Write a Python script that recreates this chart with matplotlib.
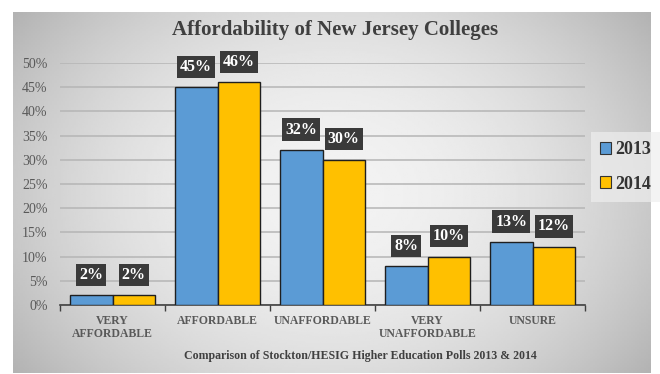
import numpy as np
import matplotlib
matplotlib.use('Agg')
import matplotlib.pyplot as plt
from matplotlib.patches import Patch

categories = ['VERY\nAFFORDABLE', 'AFFORDABLE', 'UNAFFORDABLE', 'VERY\nUNAFFORDABLE', 'UNSURE']
pct_2013 = [2, 45, 32, 8, 13]
pct_2014 = [2, 46, 30, 10, 12]
years = ['2013', '2014']

blue = '#5b9bd5'
gold = '#ffc000'
textgray = '#595959'
serif = 'Liberation Serif'

fig = plt.figure(figsize=(6.6, 3.74), dpi=100)

# grey gradient panel behind everything
bg = fig.add_axes([13/660, 1/374, 638/660, 361/374], zorder=-10)
xx, yy = np.meshgrid(np.linspace(-1, 1, 300), np.linspace(-1, 1, 200))
r = np.sqrt((xx*0.95)**2 + (yy*0.7)**2)
shade = 0.95 - 0.18*r**2
bg.imshow(shade, cmap='gray', vmin=0, vmax=1, aspect='auto', extent=[0, 1, 0, 1])
bg.axis('off')

ax = fig.add_axes([60/660, 1-305/374, 525/660, 242/374])
ax.patch.set_alpha(0)

x = np.arange(len(categories))
w = 0.405
b1 = ax.bar(x - w/2, pct_2013, w, color=blue, edgecolor='#1f1f1f', linewidth=1, zorder=3)
b2 = ax.bar(x + w/2, pct_2014, w, color=gold, edgecolor='#1f1f1f', linewidth=1, zorder=3)

for bars, vals in ((b1, pct_2013), (b2, pct_2014)):
    for bar, v in zip(bars, vals):
        ax.annotate(f'{v}%', (bar.get_x() + bar.get_width()/2, v),
                    xytext=(0, 9), textcoords='offset points', ha='center', va='bottom',
                    fontsize=11.5, fontweight='bold', family=serif, color='white', zorder=5,
                    bbox=dict(boxstyle='square,pad=0.2', fc='#3a3a3a', ec='none'))

ax.set_xlim(-0.5, len(categories) - 0.5)
ax.set_ylim(0, 50)
ax.set_yticks(np.arange(0, 51, 5))
ax.set_yticklabels([f'{t}%' for t in range(0, 51, 5)], family=serif, fontsize=10, color=textgray)
ax.yaxis.grid(True, color='#b5b5b5', linewidth=1.1, zorder=0)
ax.tick_params(axis='y', length=0, pad=9)

ax.set_xticks(x)
ax.set_xticklabels(categories, family=serif, fontsize=8.5, fontweight='bold', color=textgray,
                   linespacing=1.1)
ax.set_xticks(np.arange(-0.5, len(categories), 1), minor=True)
ax.tick_params(axis='x', which='major', length=0, pad=7)
ax.tick_params(axis='x', which='minor', length=4, width=1, color='#404040')

for s in ('top', 'right', 'left'):
    ax.spines[s].set_visible(False)
ax.spines['bottom'].set_color('#404040')
ax.spines['bottom'].set_linewidth(1.2)

fig.text(335/660, 1-30/374, 'Affordability of New Jersey Colleges', ha='center', va='center',
         family=serif, fontsize=15, fontweight='bold', color='#3f3f3f')
fig.text(360/660, 1-356/374, 'Comparison of Stockton/HESIG Higher Education Polls 2013 & 2014',
         ha='center', va='center', family=serif, fontsize=8.6, fontweight='bold', color='#404040')

handles = [Patch(facecolor=blue, edgecolor='#333333', lw=0.8),
           Patch(facecolor=gold, edgecolor='#333333', lw=0.8)]
leg = fig.legend(handles, years, loc='center', bbox_to_anchor=(626/660, 1-167/374),
                 frameon=True, handlelength=0.6, handleheight=0.6, handletextpad=0.25,
                 labelspacing=0.95, borderpad=0.5, borderaxespad=0,
                 prop={'family': serif, 'size': 13, 'weight': 'bold'})
leg.get_frame().set_facecolor('#eeeeee')
leg.get_frame().set_edgecolor('none')
leg.get_frame().set_alpha(0.7)
leg.get_frame().set_boxstyle('square', pad=0)
for t in leg.get_texts():
    t.set_color('#333333')

fig.savefig('out.png', dpi=100, facecolor='white')
